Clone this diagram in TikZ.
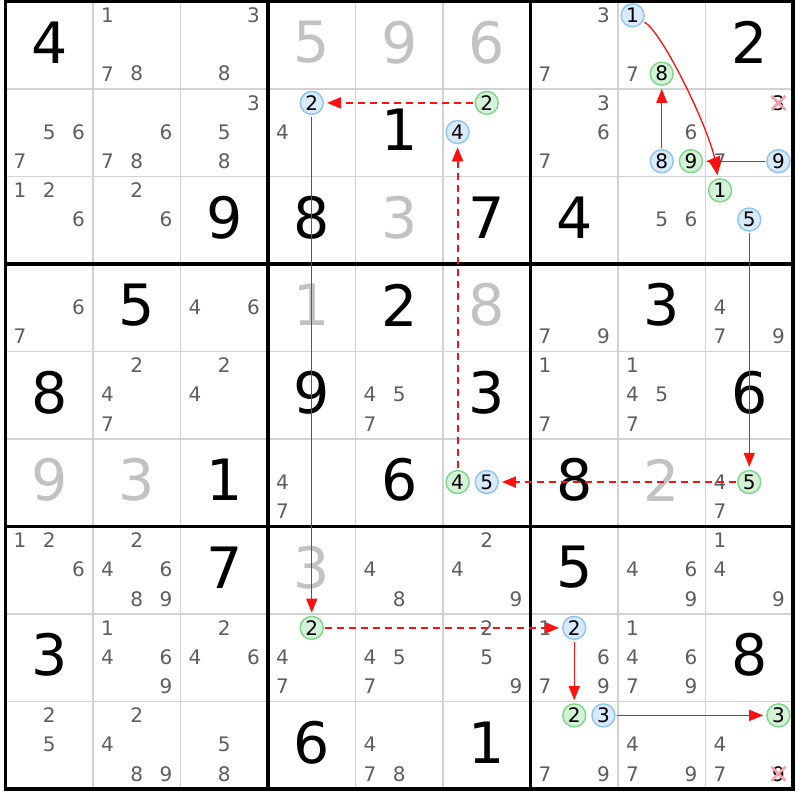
\documentclass[tikz,border=0pt]{standalone}
\usepackage{fontspec}
\setmainfont{DejaVu Sans}
\usetikzlibrary{arrows.meta}
\definecolor{candc}{HTML}{5E5E5E}
\definecolor{givgrey}{HTML}{C2C2C2}
\definecolor{gridthin}{HTML}{D2D2D2}
\definecolor{bfill}{HTML}{D8EAFC}
\definecolor{bline}{HTML}{8EC4F5}
\definecolor{gfill}{HTML}{D4F2D7}
\definecolor{gline}{HTML}{7ED58A}
\definecolor{linkred}{HTML}{FF1010}
\definecolor{xpink}{HTML}{F3A0A9}
\newcommand\candnodes[3]{%
  \foreach \d in {#3}{%
    \pgfmathsetmacro\px{5.5+87.5*#2+14.5833*(1+2*mod(\d-1,3))}%
    \pgfmathsetmacro\py{0.8+87.5*#1+14.5833*(1+2*int((\d-1)/3))}%
    \node[cand] (k#1#2\d) at (\px,\py) {\d};}}
\newcommand\circcand[5]{%
  \pgfmathsetmacro\px{5.5+87.5*#3+14.5833*(1+2*mod(#4-1,3))}%
  \pgfmathsetmacro\py{0.8+87.5*#2+14.5833*(1+2*int((#4-1)/3))}%
  \node[#1] (#5) at (\px,\py) {#4};}
\newcommand\bigdig[4]{%
  \node[#1] (d#2#3) at ({49.25+87.5*#3},{42.5+87.5*#2}) {#4};}
\begin{document}
\begin{tikzpicture}[x=1pt,y=-1pt,
  cand/.style={inner sep=0pt, text=candc, font=\fontsize{20}{20}\selectfont},
  xc/.style={cand, text=black},
  bigblack/.style={inner sep=0pt, text=black, font=\fontsize{57}{57}\selectfont},
  biggrey/.style={bigblack, text=givgrey},
  bc/.style={circle, draw=bline, fill=bfill, line width=1.4pt, minimum size=23pt, inner sep=0pt, text=black, font=\fontsize{20}{20}\selectfont},
  gc/.style={bc, draw=gline, fill=gfill},
  thingrid/.style={draw=gridthin, line width=1.7pt},
  thickgrid/.style={draw=black, line width=3.2pt},
  link/.style={draw=linkred, line width=1.3pt, shorten <=1.5pt, shorten >=3pt, -{Triangle[length=14pt,width=11pt]}},
  weak/.style={link, line width=2pt, dash pattern=on 7pt off 5pt},
  xmark/.style={draw=xpink, line width=2.6pt}]
\useasboundingbox (0,0) rectangle (800,800);
\fill[white] (0,0) rectangle (800,800);
% grid
\foreach \i in {1,2,4,5,7,8}{
  \draw[thingrid] ({5.5+87.5*\i},1.5) -- ({5.5+87.5*\i},789);
  \draw[thingrid] (5.5,{1.5+87.5*\i}) -- (793,{1.5+87.5*\i});}
\foreach \i in {3,6}{
  \draw[thickgrid] ({5.5+87.5*\i},1.5) -- ({5.5+87.5*\i},789);
  \draw[thickgrid] (5.5,{1.5+87.5*\i}) -- (793,{1.5+87.5*\i});}
\draw[thickgrid] (5.5,1.5) rectangle (793,789);
% givens
\bigdig{bigblack}{0}{0}{4}
\bigdig{bigblack}{0}{8}{2}
\bigdig{bigblack}{1}{4}{1}
\bigdig{bigblack}{2}{2}{9}
\bigdig{bigblack}{2}{3}{8}
\bigdig{bigblack}{2}{5}{7}
\bigdig{bigblack}{2}{6}{4}
\bigdig{bigblack}{3}{1}{5}
\bigdig{bigblack}{3}{4}{2}
\bigdig{bigblack}{3}{7}{3}
\bigdig{bigblack}{4}{0}{8}
\bigdig{bigblack}{4}{3}{9}
\bigdig{bigblack}{4}{5}{3}
\bigdig{bigblack}{4}{8}{6}
\bigdig{bigblack}{5}{2}{1}
\bigdig{bigblack}{5}{4}{6}
\bigdig{bigblack}{5}{6}{8}
\bigdig{bigblack}{6}{2}{7}
\bigdig{bigblack}{6}{6}{5}
\bigdig{bigblack}{7}{0}{3}
\bigdig{bigblack}{7}{8}{8}
\bigdig{bigblack}{8}{3}{6}
\bigdig{bigblack}{8}{5}{1}
\bigdig{biggrey}{0}{3}{5}
\bigdig{biggrey}{0}{4}{9}
\bigdig{biggrey}{0}{5}{6}
\bigdig{biggrey}{2}{4}{3}
\bigdig{biggrey}{3}{3}{1}
\bigdig{biggrey}{3}{5}{8}
\bigdig{biggrey}{5}{0}{9}
\bigdig{biggrey}{5}{1}{3}
\bigdig{biggrey}{5}{7}{2}
\bigdig{biggrey}{6}{3}{3}
% candidates
\candnodes{0}{1}{1,7,8}
\candnodes{0}{2}{3,8}
\candnodes{0}{6}{3,7}
\candnodes{0}{7}{7}
\candnodes{1}{0}{5,6,7}
\candnodes{1}{1}{6,7,8}
\candnodes{1}{2}{3,5,8}
\candnodes{1}{3}{4}
\candnodes{1}{6}{3,6,7}
\candnodes{1}{7}{6}
\candnodes{1}{8}{7}
\candnodes{2}{0}{1,2,6}
\candnodes{2}{1}{2,6}
\candnodes{2}{7}{5,6}
\candnodes{3}{0}{6,7}
\candnodes{3}{2}{4,6}
\candnodes{3}{6}{7,9}
\candnodes{3}{8}{4,7,9}
\candnodes{4}{1}{2,4,7}
\candnodes{4}{2}{2,4}
\candnodes{4}{4}{4,5,7}
\candnodes{4}{6}{1,7}
\candnodes{4}{7}{1,4,5,7}
\candnodes{5}{3}{4,7}
\candnodes{5}{8}{4,7}
\candnodes{6}{0}{1,2,6}
\candnodes{6}{1}{2,4,6,8,9}
\candnodes{6}{4}{4,8}
\candnodes{6}{5}{2,4,9}
\candnodes{6}{7}{4,6,9}
\candnodes{6}{8}{1,4,9}
\candnodes{7}{1}{1,4,6,9}
\candnodes{7}{2}{2,4,6}
\candnodes{7}{3}{4,7}
\candnodes{7}{4}{4,5,7}
\candnodes{7}{5}{2,5,9}
\candnodes{7}{6}{1,6,7,9}
\candnodes{7}{7}{1,4,6,7,9}
\candnodes{8}{0}{2,5}
\candnodes{8}{1}{2,4,8,9}
\candnodes{8}{2}{5,8}
\candnodes{8}{4}{4,7,8}
\candnodes{8}{6}{7,9}
\candnodes{8}{7}{4,7,9}
\candnodes{8}{8}{4,7}
% eliminated candidates
\circcand{xc}{1}{8}{3}{x183}
\circcand{xc}{8}{8}{9}{x889}
\draw[xmark] ([shift={(-7,-7)}]x183.center) -- ([shift={(7,7)}]x183.center);
\draw[xmark] ([shift={(-7,7)}]x183.center) -- ([shift={(7,-7)}]x183.center);
\draw[xmark] ([shift={(-7,-7)}]x889.center) -- ([shift={(7,7)}]x889.center);
\draw[xmark] ([shift={(-7,7)}]x889.center) -- ([shift={(7,-7)}]x889.center);
% circled candidates
\circcand{bc}{0}{7}{1}{b071}
\circcand{gc}{0}{7}{8}{g078}
\circcand{bc}{1}{3}{2}{b132}
\circcand{gc}{1}{5}{2}{g152}
\circcand{bc}{1}{5}{4}{b154}
\circcand{bc}{1}{7}{8}{b178}
\circcand{gc}{1}{7}{9}{g179}
\circcand{bc}{1}{8}{9}{b189}
\circcand{gc}{2}{8}{1}{g281}
\circcand{bc}{2}{8}{5}{b285}
\circcand{gc}{5}{5}{4}{g554}
\circcand{bc}{5}{5}{5}{b555}
\circcand{gc}{5}{8}{5}{g585}
\circcand{gc}{7}{3}{2}{g732}
\circcand{bc}{7}{6}{2}{b762}
\circcand{gc}{8}{6}{2}{g862}
\circcand{bc}{8}{6}{3}{b863}
\circcand{gc}{8}{8}{3}{g883}
% links
\draw[link] (b071) .. controls +(30,17) and +(-10,-60) .. (g281);
\draw[link] (b189) -- (g179);
\draw[link] (b178) -- (g078);
\draw[link] (b285) -- (g585);
\draw[weak] (g585) -- (b555);
\draw[weak] (g554) -- (b154);
\draw[weak] (g152) -- (b132);
\draw[link] (b132) -- (g732);
\draw[weak] (g732) -- (b762);
\draw[link] (b762) -- (g862);
\draw[link] (b863) -- (g883);
\end{tikzpicture}
\end{document}
